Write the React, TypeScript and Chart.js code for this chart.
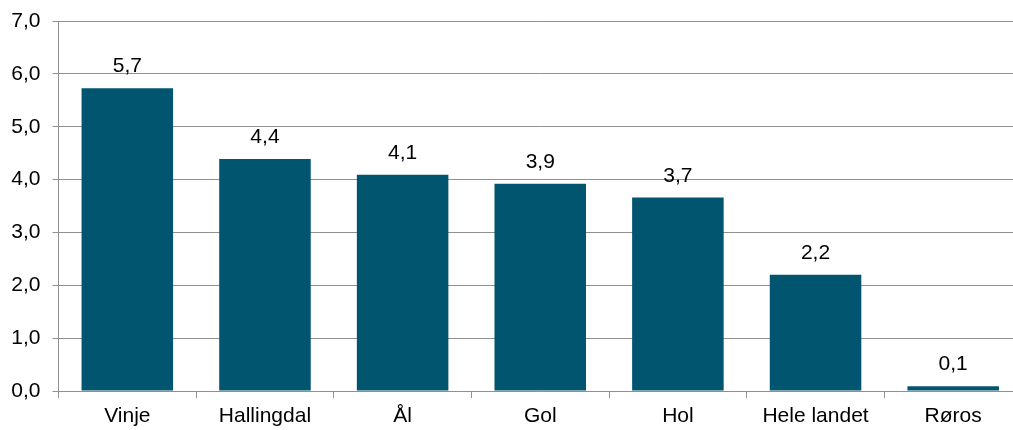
import React, { useEffect, useRef } from "react";
import { Chart, registerables } from "chart.js";

Chart.register(...registerables);

const categories = ["Vinje", "Hallingdal", "Ål", "Gol", "Hol", "Hele landet", "Røros"];
const values = [5.73, 4.39, 4.09, 3.92, 3.66, 2.2, 0.09];
const yTicks = [0, 1, 2, 3, 4, 5, 6, 7];

const FONT = '"Liberation Sans", Arial, sans-serif';
const fmt = (v: number) => v.toFixed(1).replace(".", ",");

const labelPlugin = {
  id: "barLabels",
  afterDatasetsDraw(chart: any) {
    const ctx = chart.ctx;
    const meta = chart.getDatasetMeta(0);
    ctx.save();
    ctx.font = `21px ${FONT}`;
    ctx.fillStyle = "#000";
    ctx.textAlign = "center";
    ctx.textBaseline = "alphabetic";
    meta.data.forEach((el: any, i: number) => {
      ctx.fillText(fmt(values[i]), el.x, el.y - 16);
    });
    ctx.restore();
  },
};

export default function App() {
  const ref = useRef<HTMLCanvasElement>(null);
  useEffect(() => {
    document.body.style.margin = "0";
    document.body.style.overflow = "hidden";
    const chart = new Chart(ref.current!, {
      type: "bar",
      data: {
        labels: categories,
        datasets: [
          {
            data: values,
            backgroundColor: "#02556F",
            categoryPercentage: 1,
            barPercentage: 0.665,
          },
        ],
      },
      options: {
        animation: false,
        responsive: false,
        layout: { padding: { top: 21, right: 0, left: 0, bottom: 0 } },
        plugins: { legend: { display: false }, tooltip: { enabled: false } },
        scales: {
          x: {
            grid: {
              offset: true,
              drawOnChartArea: false,
              drawTicks: true,
              tickLength: 7,
              color: "#909090",
            },
            border: { color: "#909090", width: 1 },
            ticks: {
              color: "#000",
              padding: 6,
              maxRotation: 0,
              font: { family: FONT, size: 21 },
            },
            afterFit: (s: any) => {
              s.height = 39;
              s.paddingLeft = 0;
              s.paddingRight = 0;
            },
          },
          y: {
            min: 0,
            max: 7,
            afterBuildTicks: (s: any) => {
              s.ticks = yTicks.map((v) => ({ value: v }));
            },
            grid: { color: "#909090", tickLength: 6 },
            border: { color: "#909090", width: 1 },
            ticks: {
              color: "#000",
              padding: 12,
              font: { family: FONT, size: 21 },
              callback: (v: any) => fmt(Number(v)),
            },
            afterFit: (s: any) => {
              s.width = 58.5;
              s.paddingTop = 0;
              s.paddingBottom = 0;
            },
          },
        },
      },
      plugins: [labelPlugin],
    });
    return () => chart.destroy();
  }, []);
  return (
    <div style={{ width: 1013, height: 430, overflow: "hidden" }}>
      <canvas ref={ref} width={1022} height={430} style={{ display: "block" }} />
    </div>
  );
}
